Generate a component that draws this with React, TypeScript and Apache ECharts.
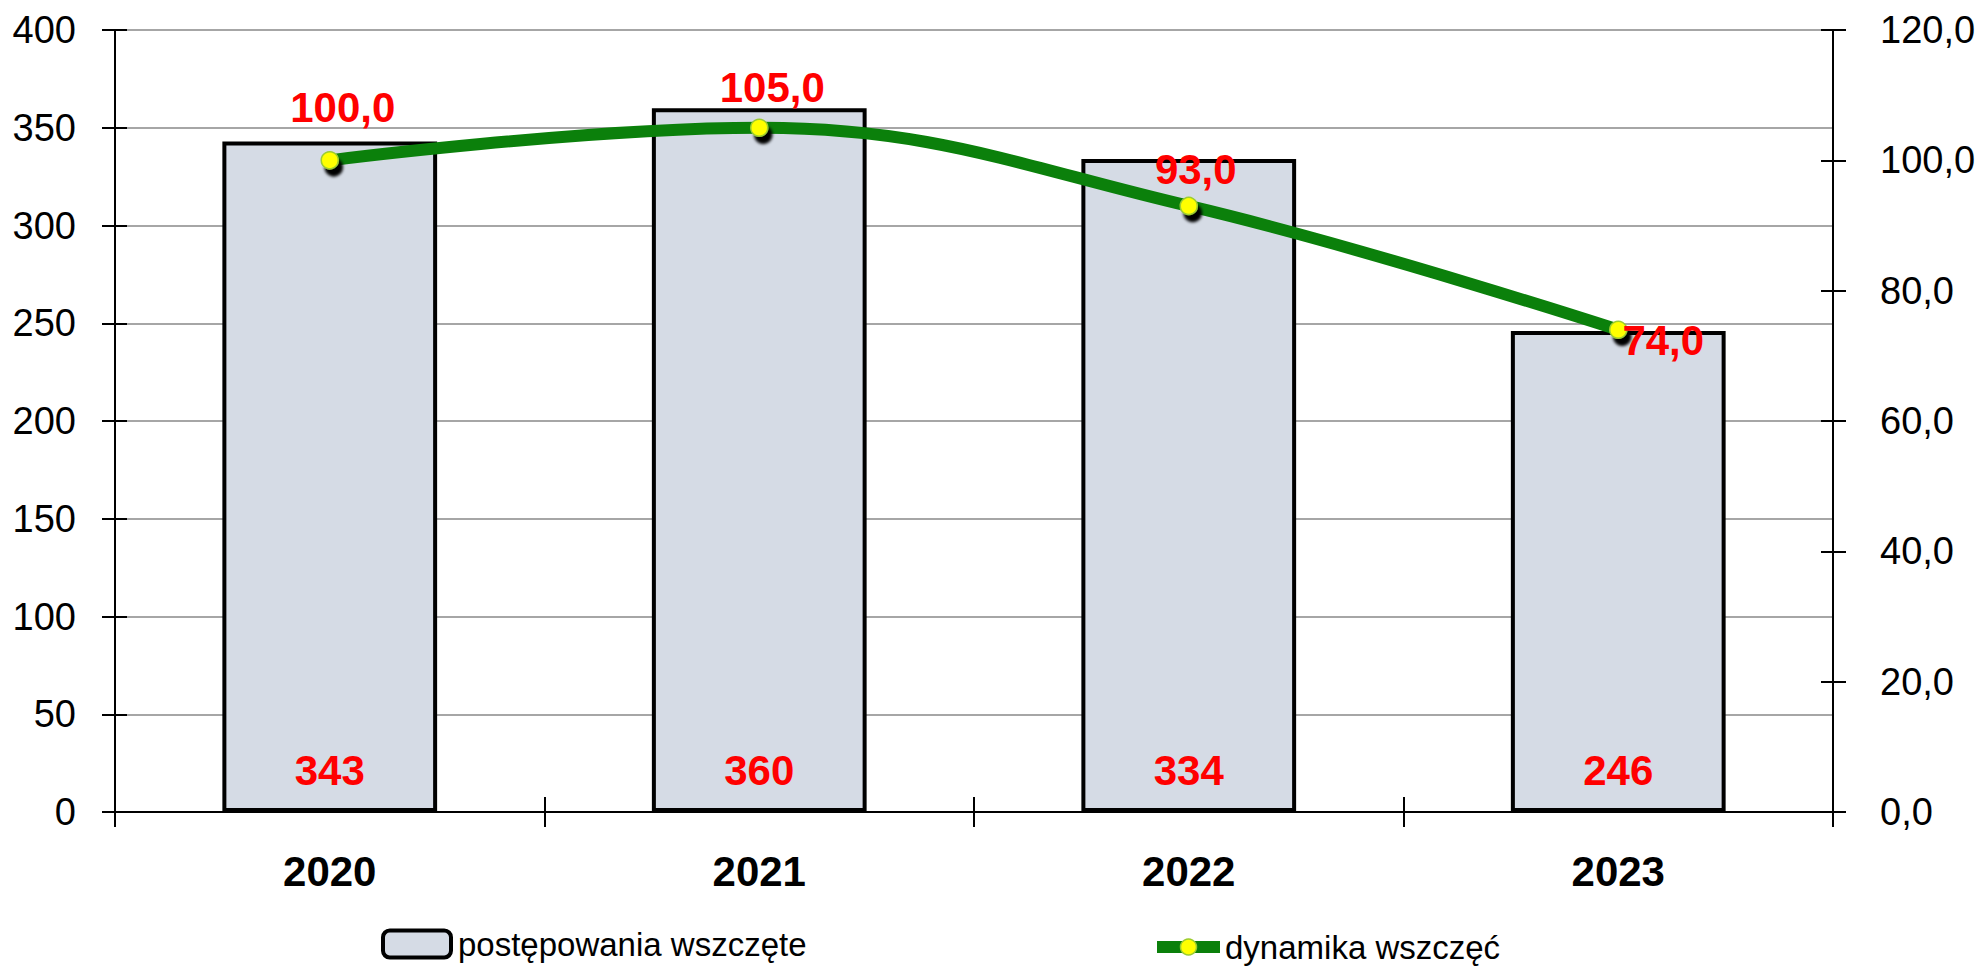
import React, { useEffect, useRef } from "react";
import * as echarts from "echarts";

const categories = ["2020", "2021", "2022", "2023"];
const cases = [343, 360, 334, 246];
const dynamics = [100.0, 105.0, 93.0, 74.0];
const leftTicks = { min: 0, max: 400, interval: 50 };
const rightTicks = { min: 0, max: 120, interval: 20 };
const barName = "postępowania wszczęte";
const lineName = "dynamika wszczęć";

// label centre offsets relative to each point (style only)
const lineLabelOffsets = [
  [13, -53],
  [13, -40],
  [7, -36],
  [45, 11],
];

const BOLD = "'Liberation Sans', Arial, sans-serif";
const REG = "'Liberation Sans', Arial, sans-serif";
const comma = (v: number) => v.toFixed(1).replace(".", ",");

export default function App() {
  const ref = useRef<HTMLDivElement>(null);
  useEffect(() => {
    if (!ref.current) return;
    const chart = echarts.init(ref.current, undefined, { renderer: "svg" });
    const hiddenAxisBits = {
      axisLabel: { show: false },
      splitLine: { show: false },
      axisLine: { show: false },
    };
    chart.setOption({
      animation: false,
      backgroundColor: "#ffffff",
      grid: { left: 115, right: 146, top: 30, bottom: 154, containLabel: false },
      legend: [
        {
          data: [barName],
          left: 381,
          top: 927,
          padding: 0,
          itemWidth: 68,
          itemHeight: 27,
          itemGap: 6,
          itemStyle: { borderWidth: 4, borderColor: "#000", color: "#d5dbe5" },
          textStyle: { fontFamily: REG, fontSize: 33, lineHeight: 34, color: "#000", padding: [0, 0, 0, 2] },
        },
        {
          data: [lineName],
          left: 1151,
          top: 930,
          padding: 0,
          itemWidth: 63,
          itemHeight: 20,
          lineStyle: { width: 12, color: "#0b800b" },
          itemStyle: { color: "#ffff00", borderColor: "#9ccc30", borderWidth: 1.5, shadowBlur: 0, shadowOffsetX: 0, shadowOffsetY: 0 },
          textStyle: { fontFamily: REG, fontSize: 33, lineHeight: 34, color: "#000" },
        },
      ],
      xAxis: [
        {
          type: "category",
          data: categories,
          boundaryGap: true,
          axisLine: { lineStyle: { color: "#000", width: 2 } },
          axisTick: { show: true, length: 15, lineStyle: { color: "#000", width: 2 } },
          axisLabel: {
            fontFamily: BOLD,
            fontWeight: "bold",
            fontSize: 42,
            color: "#000",
            margin: 38,
          },
        },
        {
          type: "category",
          data: categories,
          position: "bottom",
          boundaryGap: true,
          axisTick: { show: true, inside: true, length: 15, lineStyle: { color: "#000", width: 2 } },
          ...hiddenAxisBits,
        },
      ],
      yAxis: [
        {
          type: "value",
          ...leftTicks,
          position: "left",
          axisLine: { show: true, lineStyle: { color: "#000", width: 2 } },
          axisTick: { show: true, length: 13, lineStyle: { color: "#000", width: 2 } },
          axisLabel: { fontFamily: REG, fontSize: 38, color: "#000", margin: 39 },
          splitLine: { show: true, lineStyle: { color: "#a6a6a6", width: 2 } },
        },
        {
          type: "value",
          ...rightTicks,
          position: "right",
          axisLine: { show: true, lineStyle: { color: "#000", width: 2 } },
          axisTick: { show: true, length: 13, lineStyle: { color: "#000", width: 2 } },
          axisLabel: {
            fontFamily: REG,
            fontSize: 38,
            color: "#000",
            margin: 47,
            formatter: (v: number) => comma(v),
          },
          splitLine: { show: false },
        },
        {
          type: "value",
          ...leftTicks,
          position: "left",
          axisTick: { show: true, inside: true, length: 12, lineStyle: { color: "#000", width: 2 } },
          ...hiddenAxisBits,
        },
        {
          type: "value",
          ...rightTicks,
          position: "right",
          axisTick: { show: true, inside: true, length: 12, lineStyle: { color: "#000", width: 2 } },
          ...hiddenAxisBits,
        },
      ],
      series: [
        {
          name: barName,
          type: "bar",
          yAxisIndex: 0,
          xAxisIndex: 0,
          barWidth: "50%",
          data: cases,
          itemStyle: { color: "#d5dbe5", borderColor: "#000", borderWidth: 4 },
          label: {
            show: true,
            position: "insideBottom",
            distance: 21,
            color: "#ff0000",
            fontFamily: BOLD,
            fontWeight: "bold",
            fontSize: 42,
          },
          z: 2,
        },
        {
          name: lineName,
          type: "line",
          yAxisIndex: 1,
          xAxisIndex: 0,
          smooth: 0.4,
          symbol: "circle",
          symbolSize: 17,
          data: dynamics.map((v, i) => ({
            value: v,
            label: { offset: lineLabelOffsets[i] },
          })),
          lineStyle: { color: "#0b800b", width: 12 },
          itemStyle: {
            color: "#ffff00",
            borderColor: "#9ccc30",
            borderWidth: 1.5,
            shadowColor: "rgba(0,0,0,1)",
            shadowBlur: 3,
            shadowOffsetX: 4,
            shadowOffsetY: 7,
          },
          label: {
            show: true,
            position: "inside",
            color: "#ff0000",
            fontFamily: BOLD,
            fontWeight: "bold",
            fontSize: 42,
            formatter: (p: any) => comma(p.value),
          },
          z: 5,
        },
      ],
    });
    return () => chart.dispose();
  }, []);
  return (
    <div
      ref={ref}
      style={{ position: "absolute", left: 0, top: 0, width: 1979, height: 966, background: "#fff" }}
    />
  );
}
